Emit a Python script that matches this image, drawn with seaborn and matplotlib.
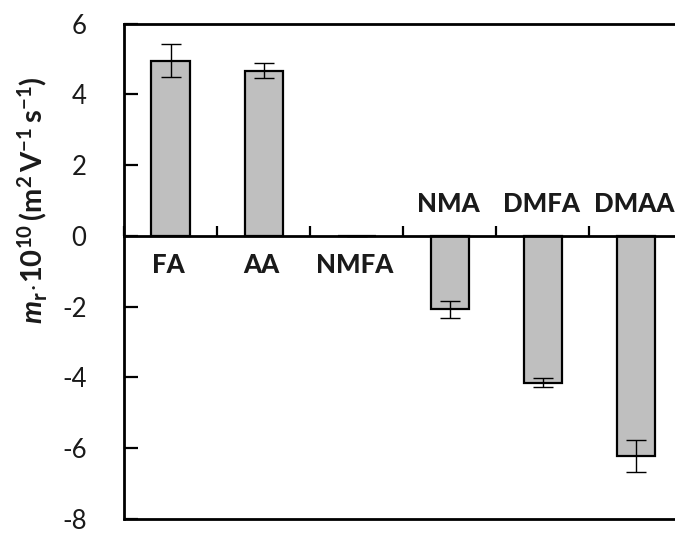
import matplotlib
matplotlib.use("Agg")
import matplotlib.pyplot as plt
import seaborn as sns
import numpy as np

# Reduced mobility of the amides
solvents = ["FA", "AA", "NMFA", "NMA", "DMFA", "DMAA"]
mobility = [4.95, 4.67, 0.0, -2.08, -4.15, -6.22]
mobility_err = [0.47, 0.20, 0.0, 0.23, 0.13, 0.46]
y_ticks = [6, 4, 2, 0, -2, -4, -6, -8]

sns.set_theme(style="white")
plt.rcParams["font.family"] = ["Lato", "DejaVu Sans"]
plt.rcParams["axes.unicode_minus"] = False
plt.rcParams["mathtext.fontset"] = "custom"
plt.rcParams["mathtext.rm"] = "Lato:bold"
plt.rcParams["mathtext.it"] = "Lato:bold:italic"
plt.rcParams["mathtext.bf"] = "Lato:bold"

fig = plt.figure(figsize=(6.75, 5.33), dpi=100)
ax = fig.add_axes([124 / 675, 1 - 519 / 533, 558.5 / 675, 495.5 / 533])

sns.barplot(x=solvents, y=mobility, color="#bfbfbf", edgecolor="black",
            linewidth=1.6, width=0.41, errorbar=None, saturation=1, ax=ax)
ax.errorbar(np.arange(len(solvents)), mobility, yerr=mobility_err, fmt="none",
            ecolor="black", elinewidth=1.0, capsize=7.5, capthick=1.0, zorder=5)

ax.set_xlim(-0.5, len(solvents) - 0.5)
ax.set_ylim(-8, 6)
ax.set_yticks(y_ticks)
ax.set_yticklabels([str(v) for v in y_ticks], fontsize=18.5, color="#1a1a1a")
ax.tick_params(axis="y", direction="in", length=10, width=1.6, pad=27,
               left=True, color="black")

# category axis runs along the zero line
ax.spines["bottom"].set_position(("data", 0))
ax.spines["right"].set_visible(False)
for side in ["left", "top", "bottom"]:
    ax.spines[side].set_visible(True)
    ax.spines[side].set_color("black")
    ax.spines[side].set_linewidth(2.0)
ax.set_xticks(np.arange(len(solvents)))
ax.set_xticklabels([])
ax.tick_params(axis="x", which="major", length=0)
ax.set_xticks(np.arange(len(solvents) + 1) - 0.5, minor=True)
ax.tick_params(axis="x", which="minor", direction="in", length=7, width=1.6,
               bottom=True, color="black")
ax.axhline(-8, color="black", lw=2.0, clip_on=False, zorder=6)
ax.set_xlabel("")
ax.set_ylabel("")

for i, (name, val) in enumerate(zip(solvents, mobility)):
    y = 0.9 if val < 0 else -0.82
    ax.text(i - 0.02, y, name, ha="center", va="center", fontsize=18.5,
            fontweight="black", color="#1a1a1a")

fig.text(32 / 675, 1 - 200 / 533,
         r"$m_{\mathrm{r}}\!\cdot\!10^{10}\,(\mathrm{m}^{2}\,\mathrm{V}^{-1}\,\mathrm{s}^{-1})$",
         rotation=90, ha="center", va="center", fontsize=21, color="#1a1a1a")

fig.savefig("out.png", dpi=100)
